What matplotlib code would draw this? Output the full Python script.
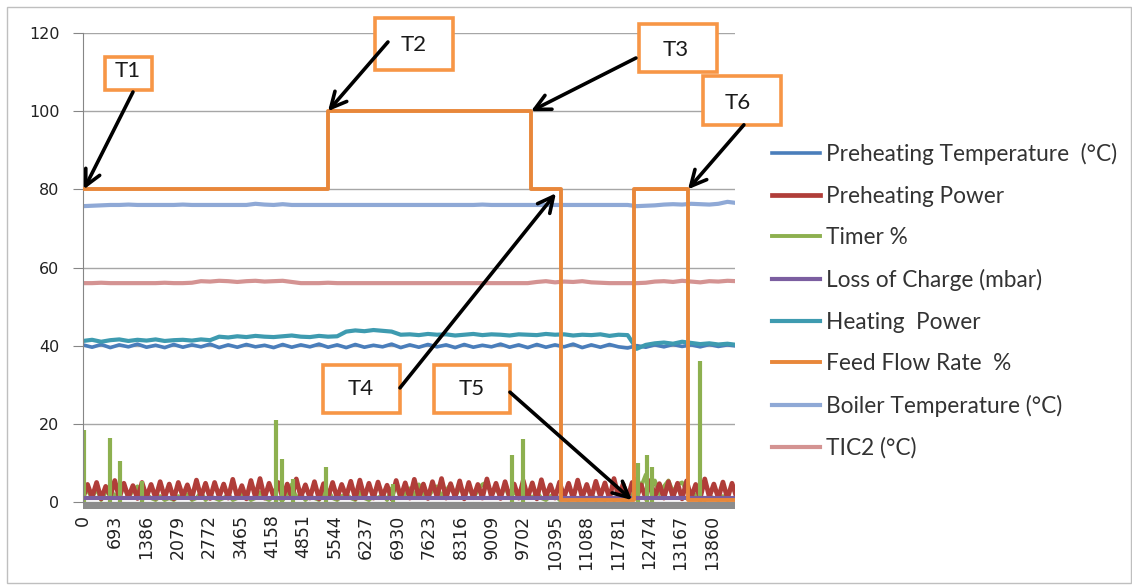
import numpy as np
from matplotlib import pyplot as plt
from matplotlib.patches import Rectangle

# sample index of each point (category axis)
fine_x = np.arange(0, 14401, 100)     # 145 points
coarse_x = np.arange(0, 14401, 200)   # 73 points

x_tick_labels = [0, 693, 1386, 2079, 2772, 3465, 4158, 4851, 5544, 6237, 6930,
                 7623, 8316, 9009, 9702, 10395, 11088, 11781, 12474, 13167, 13860]

preheat_power = [
    1.0, 4.5, 1.2, 5.0, 0.8, 4.0, 1.5, 5.5, 1.0, 4.8,
    1.2, 4.2, 0.9, 5.0, 1.3, 4.5, 1.0, 5.2, 1.1, 4.6,
    0.8, 5.0, 1.4, 4.4, 1.0, 5.6, 1.2, 4.8, 0.9, 5.0,
    1.3, 4.6, 1.0, 5.8, 1.1, 4.2, 0.8, 5.5, 1.2, 6.0,
    1.0, 4.8, 1.4, 5.0, 0.9, 4.6, 1.1, 5.9, 1.3, 4.4,
    1.0, 5.2, 0.8, 4.7, 1.2, 5.0, 1.0, 4.5, 1.4, 5.3,
    0.9, 5.6, 1.1, 4.8, 1.0, 5.1, 1.3, 4.3, 0.8, 5.5,
    1.2, 4.9, 1.0, 5.8, 1.1, 4.6, 0.9, 5.2, 1.3, 6.0,
    1.0, 4.7, 1.2, 5.4, 0.8, 5.0, 1.1, 4.5, 1.0, 5.9,
    1.3, 4.8, 0.9, 5.2, 1.2, 4.6, 1.0, 5.5, 1.1, 4.9,
    0.8, 5.7, 1.3, 4.4, 1.0, 5.1, 1.2, 4.8, 0.9, 5.6,
    1.1, 4.5, 1.0, 5.3, 1.4, 4.9, 0.8, 6.0, 1.2, 4.6,
    1.0, 5.0, 1.1, 4.4, 0.9, 5.5, 1.3, 4.7, 1.0, 5.2,
    1.2, 4.8, 0.8, 5.4, 1.1, 4.5, 1.0, 5.9, 1.3, 4.6,
    1.0, 5.1, 0.9, 4.8, 1.2,
]

timer_base = [
    2.0, 3.0, 1.0, 3.5, 0.5, 2.5, 4.0, 1.0, 3.0, 4.0,
    1.0, 3.0, 4.0, 0.5, 2.0, 1.0, 0.5, 1.5, 0.5, 1.0,
    0.5, 1.5, 1.0, 2.0, 0.5, 1.0, 2.5, 0.5, 1.5, 1.0,
    0.5, 1.0, 2.0, 0.5, 1.0, 2.0, 1.5, 0.5, 1.0, 2.5,
    1.0, 0.5, 1.5, 1.0, 0.5, 2.0, 4.5, 1.0, 2.0, 0.5,
    1.5, 1.0, 0.5, 2.0, 3.0, 1.0, 0.5, 1.5, 2.0, 1.0,
    0.5, 2.5, 1.0, 0.5, 1.5, 1.0, 2.0, 0.5, 3.5, 4.0,
    1.0, 2.0, 3.5, 1.5, 4.5, 2.0, 1.0, 3.0, 4.0, 1.5,
    3.0, 4.5, 1.5, 3.5, 2.0, 4.0, 1.0, 3.0, 4.5, 5.0,
    2.0, 3.5, 1.5, 4.0, 1.0, 2.5, 1.5, 3.0, 2.0, 1.0,
    2.5, 1.0, 0.5, 1.5, 2.0, 0.5, 1.0, 0.5, 1.5, 0.5,
    1.0, 0.5, 2.0, 0.5, 1.0, 0.5, 1.5, 0.5, 1.0, 0.5,
    0.5, 1.0, 6.0, 4.0, 7.0, 3.0, 5.5, 2.0, 4.0, 5.5,
    2.5, 4.5, 5.0, 3.0, 1.5, 2.0, 1.0, 0.5, 1.5, 1.0,
    0.5, 1.5, 0.5, 1.0, 0.5,
]
timer_spike_x = [20, 595, 815, 1300, 4252, 4384, 4626, 5353, 6829,
                 9451, 9693, 12227, 12425, 12535, 13592]
timer_spike_h = [18.5, 16.5, 10.5, 5.5, 21, 11, 6, 9, 4.5,
                 12, 16, 10, 12, 9, 36]

preheat_temp = [
    40.2, 39.6, 40.3, 39.5, 40.2, 39.7, 40.4, 39.6, 40.1, 39.5,
    40.3, 39.6, 40.2, 39.7, 40.4, 39.5, 40.2, 39.6, 40.3, 39.7,
    40.1, 39.5, 40.3, 39.6, 40.2, 39.7, 40.4, 39.6, 40.2, 39.5,
    40.3, 39.6, 40.1, 39.7, 40.4, 39.5, 40.2, 39.6, 40.3, 39.7,
    40.2, 39.5, 40.3, 39.6, 40.1, 39.7, 40.4, 39.6, 40.2, 39.5,
    40.3, 39.6, 40.2, 39.7, 40.4, 39.5, 40.2, 39.6, 40.3, 39.7,
    39.4, 40.0, 39.6, 40.2, 39.7, 40.3, 39.8, 40.2, 39.7, 40.3,
    39.8, 40.2, 39.9,
]

heating_power = [
    41.2, 41.5, 41.0, 41.4, 41.6, 41.2, 41.5, 41.3, 41.6, 41.2,
    41.4, 41.5, 41.3, 41.6, 41.4, 42.3, 42.1, 42.4, 42.2, 42.5,
    42.3, 42.2, 42.4, 42.6, 42.3, 42.2, 42.5, 42.3, 42.4, 43.6,
    43.9, 43.7, 44.0, 43.8, 43.6, 42.8, 42.9, 42.7, 43.0, 42.8,
    42.9, 42.6, 42.8, 43.0, 42.7, 42.9, 42.8, 42.6, 42.9, 42.8,
    42.7, 43.0, 42.8, 42.9, 42.6, 42.8, 42.7, 42.9, 42.5, 42.8,
    42.7, 39.2, 40.2, 40.6, 40.8, 40.5, 41.0, 40.7, 40.4, 40.6,
    40.3, 40.5, 40.2,
]

loss_charge = [0.9] * 73

boiler_temp = [
    75.7, 75.8, 75.9, 76.0, 76.0, 76.1, 76.0, 76.0, 76.0, 76.0,
    76.0, 76.1, 76.0, 76.0, 76.0, 76.0, 76.0, 76.0, 76.0, 76.3,
    76.1, 76.0, 76.2, 76.0, 76.0, 76.0, 76.0, 76.0, 76.0, 76.0,
    76.0, 76.0, 76.0, 76.0, 76.0, 76.0, 76.0, 76.0, 76.0, 76.0,
    76.0, 76.0, 76.0, 76.0, 76.1, 76.0, 76.0, 76.0, 76.0, 76.0,
    76.0, 76.0, 76.0, 76.0, 76.0, 76.0, 76.0, 76.0, 76.0, 76.0,
    76.0, 75.7, 75.8, 75.9, 76.1, 76.2, 76.1, 76.3, 76.2, 76.1,
    76.3, 76.8, 76.5,
]

tic2 = [
    56.0, 56.0, 56.1, 56.0, 56.0, 56.0, 56.0, 56.0, 56.0, 56.1,
    56.0, 56.0, 56.1, 56.5, 56.4, 56.6, 56.5, 56.3, 56.5, 56.6,
    56.4, 56.5, 56.6, 56.3, 56.0, 56.0, 56.0, 56.1, 56.0, 56.0,
    56.0, 56.0, 56.0, 56.0, 56.0, 56.0, 56.0, 56.0, 56.0, 56.0,
    56.0, 56.0, 56.0, 56.0, 56.0, 56.0, 56.0, 56.0, 56.0, 56.0,
    56.3, 56.5, 56.2, 56.4, 56.3, 56.5, 56.2, 56.1, 56.0, 56.0,
    56.0, 56.0, 56.1, 56.4, 56.5, 56.3, 56.6, 56.4, 56.2, 56.5,
    56.4, 56.6, 56.5,
]

# feed flow changes (step function)
feed_x = [0, 5399, 9871, 10533, 12141, 13331, 14400]
feed_flow = [80, 100, 80, 0.5, 80, 0.5, 0.5]

# annotation boxes: label, target point, arrow tail, text centre, box (x0, y0, w, h)
notes = [
    ("T1", (20, 80), (1101, 104.9), (991, 110.3), (485, 105.4, 1035, 8.4)),
    ("T2", (5399, 100), (6719, 117.7), (7292, 117.0), (6433, 110.5, 1718, 13.3)),
    ("T3", (9871, 100), (12183, 113.6), (13064, 115.6), (12249, 110.0, 1718, 12.3)),
    ("T4", (10420, 79), (6984, 29.2), (6124, 28.9), (5287, 22.8, 1696, 12.3)),
    ("T5", (12095, 0.5), (9407, 28.1), (8570, 28.9), (7733, 22.8, 1674, 12.3)),
    ("T6", (13331, 80), (14562, 96.5), (14430, 102.1), (13659, 96.4, 1718, 12.5)),
]

fig = plt.figure(figsize=(11.32, 5.87), dpi=100)
ax = fig.add_axes([83 / 1132, 85 / 587, 652 / 1132, 469 / 587])

ax.plot(coarse_x, preheat_temp, color='#4A7EBB', lw=2.6, label='Preheating Temperature  (°C)')
ax.plot(fine_x, preheat_power, color='#B03D39', lw=3.4, label='Preheating Power', zorder=2.3)
ax.plot(fine_x, timer_base, color='#8DB04F', lw=2.8, label='Timer %', zorder=2.1)
ax.vlines(timer_spike_x, 0, timer_spike_h, color='#8DB04F', lw=3.0, zorder=2.4)
ax.plot(coarse_x, loss_charge, color='#7B5EA0', lw=3.0, label='Loss of Charge (mbar)', zorder=2.5)
ax.plot(coarse_x, heating_power, color='#3E9BB0', lw=3.0, label='Heating  Power')
ax.plot(feed_x, feed_flow, drawstyle='steps-post', color='#E8873A', lw=2.8,
        label='Feed Flow Rate  %', zorder=4)
ax.plot(coarse_x, boiler_temp, color='#8FA9D6', lw=3.0, label='Boiler Temperature (°C)')
ax.plot(coarse_x, tic2, color='#D49392', lw=3.0, label='TIC2 (°C)')

# gray band below the category axis (x in axes, y in data)
ax.add_patch(Rectangle((0, -1.7), 1, 1.7, transform=ax.get_yaxis_transform(),
                       facecolor='#8C8C8C', edgecolor='none', clip_on=False, zorder=1))

ax.set_xlim(0, 14366)
ax.set_ylim(0, 120)
ax.set_yticks(range(0, 121, 20))
ax.set_xticks(x_tick_labels)
ax.set_xticklabels([str(v) for v in x_tick_labels], rotation=90)
ax.grid(axis='y', color='#A6A6A6', lw=1)
ax.set_axisbelow(True)
for s in ['top', 'right', 'bottom']:
    ax.spines[s].set_visible(False)
ax.spines['left'].set_color('#868686')
ax.tick_params(axis='y', length=7, color='#868686', pad=10, labelsize=11.5, labelcolor='#222222')
ax.tick_params(axis='x', length=0, pad=9, labelsize=12.5, labelcolor='#222222')

for name, tgt, tail, txt, box in notes:
    ax.annotate('', xy=tgt, xytext=tail, annotation_clip=False,
                arrowprops=dict(arrowstyle='->', lw=2.6, color='black',
                                mutation_scale=28, shrinkA=0, shrinkB=0),
                zorder=6)
    ax.add_patch(Rectangle(box[:2], box[2], box[3], facecolor='white', edgecolor='#F79646',
                           lw=2.6, clip_on=False, zorder=5))
    ax.text(txt[0], txt[1], name, ha='center', va='center', fontsize=16,
            family=['Lato', 'DejaVu Sans'], color='#1a1a1a', zorder=7, clip_on=False)

ax.legend(loc='upper left', bbox_to_anchor=(772 / 1132, 1 - 143 / 587),
          bbox_transform=fig.transFigure, frameon=False, borderpad=0, borderaxespad=0,
          handlelength=2.1, handletextpad=0.27, labelspacing=0.91,
          prop={'family': 'Lato', 'size': 16.3}, labelcolor='#333333')

# chart outer border
fig.patches.append(Rectangle((7 / 1132, 4 / 587), 1124 / 1132, 576 / 587, transform=fig.transFigure,
                             fill=False, edgecolor='#BFBFBF', lw=1))

fig.savefig('out.png', dpi=100)
